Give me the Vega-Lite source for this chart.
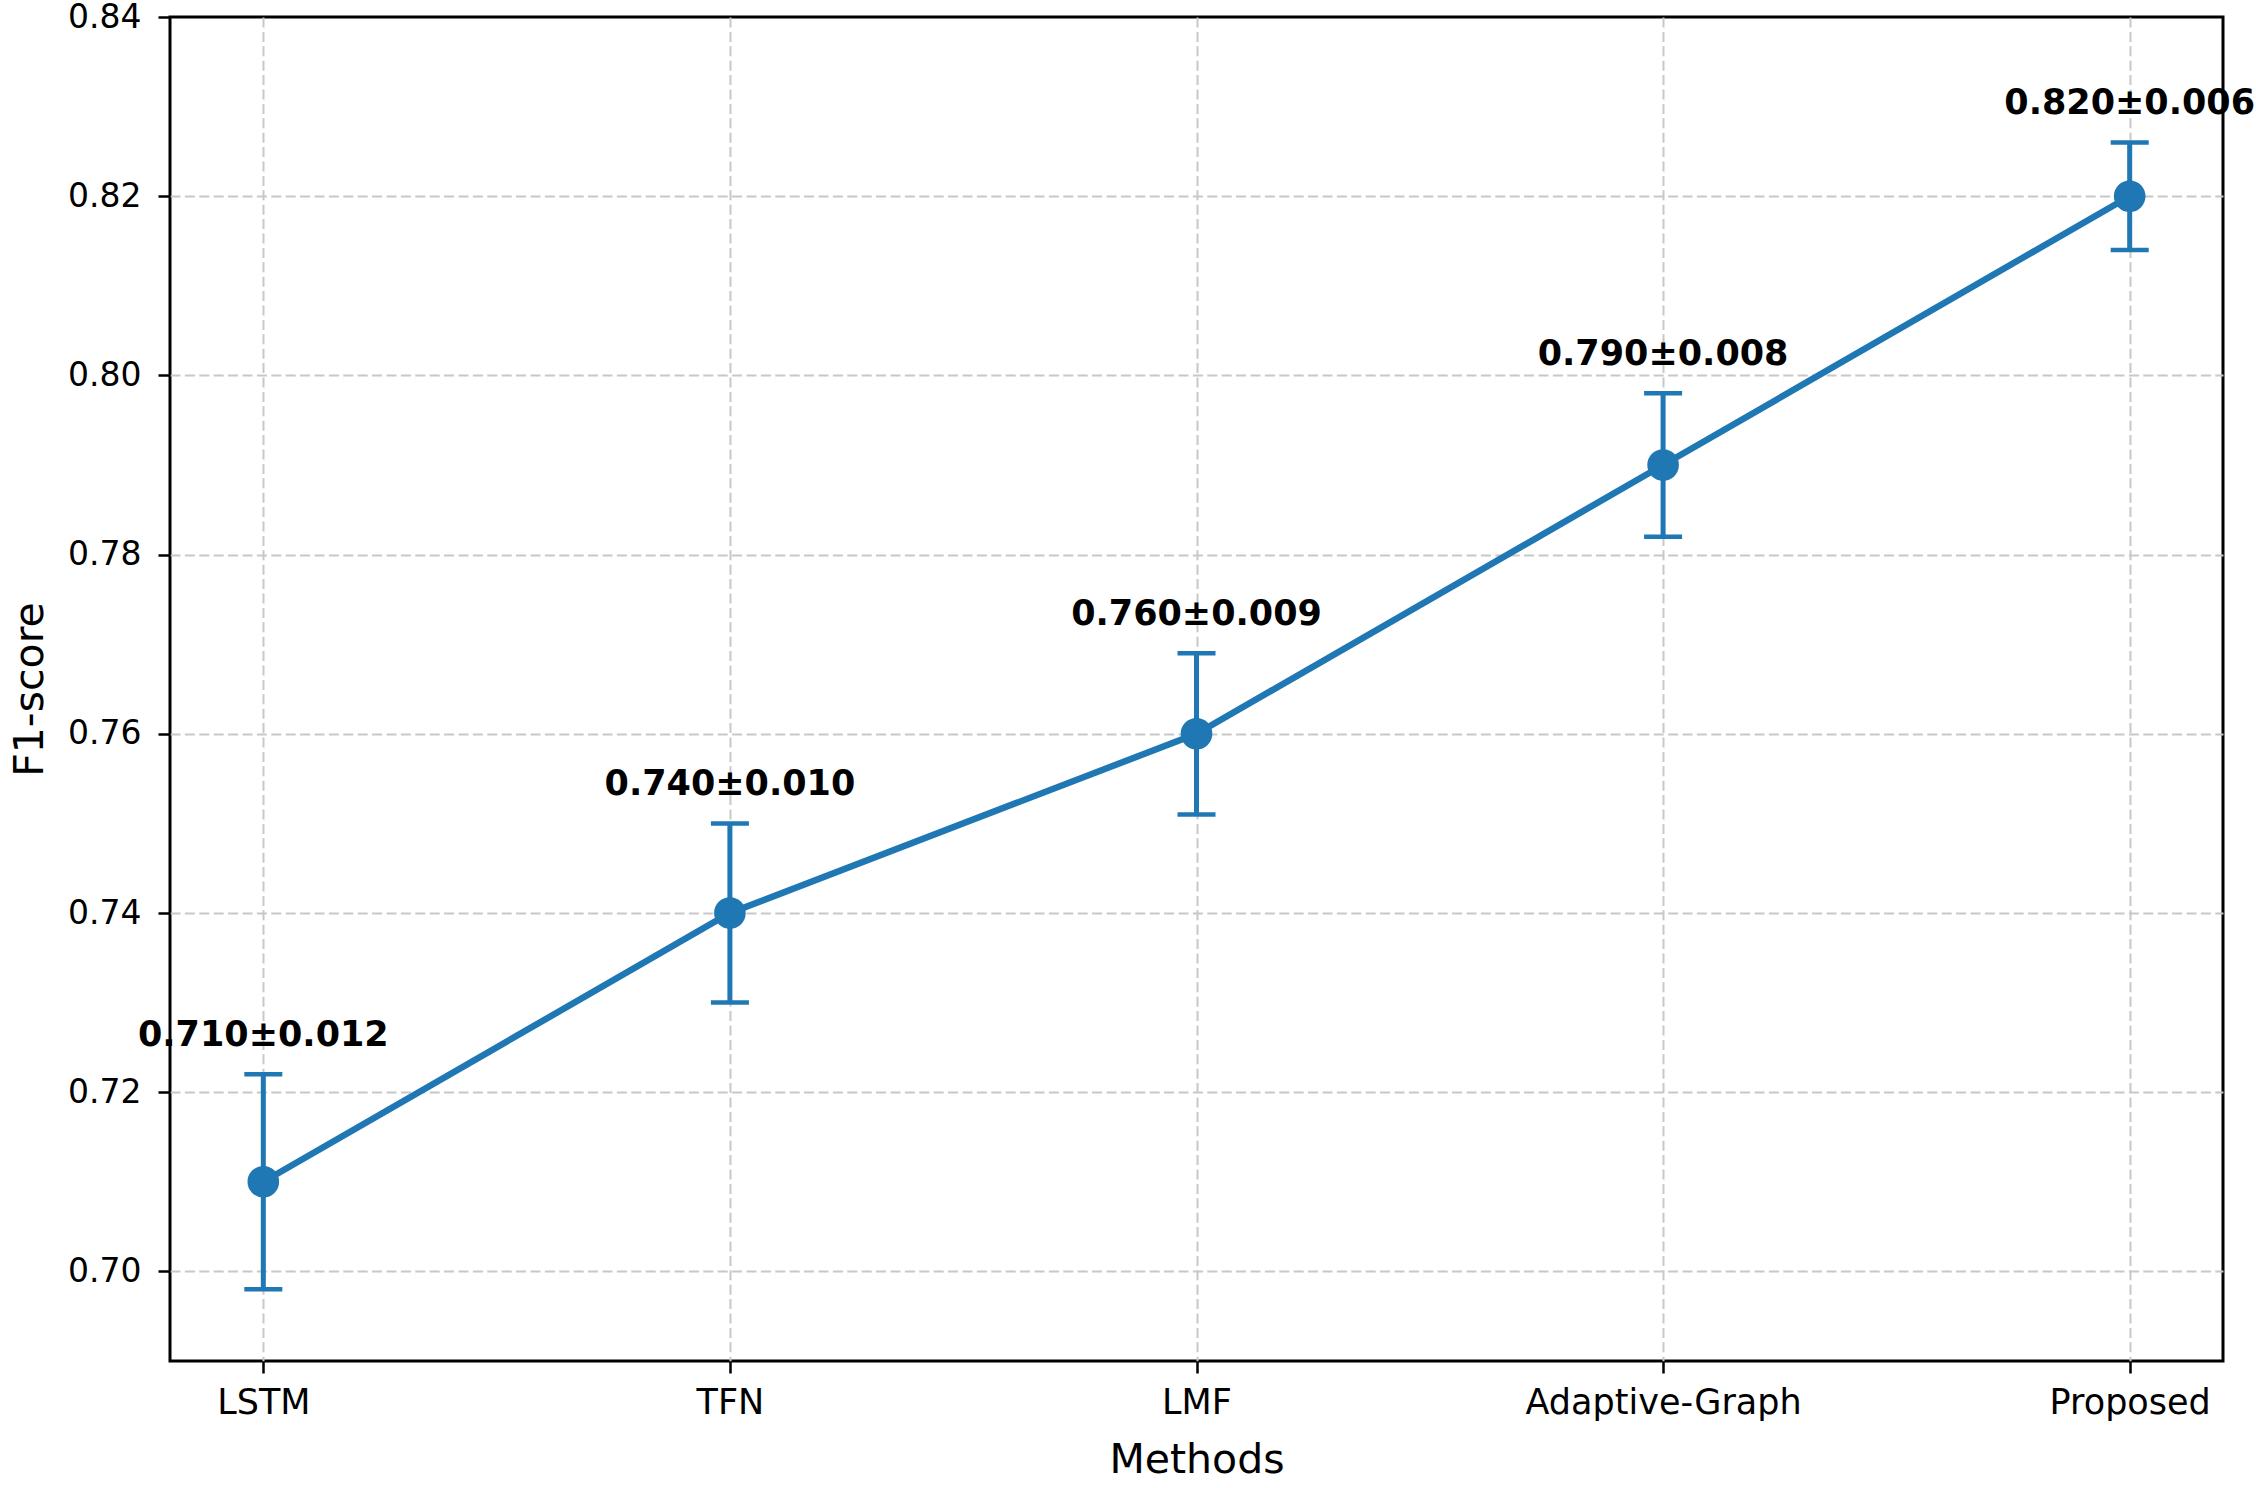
{
  "$schema": "https://vega.github.io/schema/vega-lite/v6.json",
  "autosize": {"type": "none"},
  "padding": {"left": 170, "top": 17, "right": 33, "bottom": 127},
  "width": 2053,
  "height": 1344,
  "background": "white",
  "config": {
    "view": {"stroke": "#000000", "strokeWidth": 3},
    "font": "DejaVu Sans",
    "axis": {
      "labelFont": "DejaVu Sans",
      "titleFont": "DejaVu Sans",
      "labelColor": "#000000",
      "titleColor": "#000000",
      "titleFontWeight": "normal",
      "labelFontSize": 33,
      "titleFontSize": 41,
      "tickColor": "#000000",
      "tickWidth": 2.5,
      "tickSize": 12,
      "labelLimit": 0,
      "domain": false,
      "grid": true,
      "gridDash": [10, 4.4],
      "gridWidth": 2
    }
  },
  "data": {
    "values": [
      {"method": "LSTM", "f1": 0.710, "err": 0.012, "hi": 0.722, "label": "0.710±0.012"},
      {"method": "TFN", "f1": 0.740, "err": 0.010, "hi": 0.750, "label": "0.740±0.010"},
      {"method": "LMF", "f1": 0.760, "err": 0.009, "hi": 0.769, "label": "0.760±0.009"},
      {"method": "Adaptive-Graph", "f1": 0.790, "err": 0.008, "hi": 0.798, "label": "0.790±0.008"},
      {"method": "Proposed", "f1": 0.820, "err": 0.006, "hi": 0.826, "label": "0.820±0.006"}
    ]
  },
  "encoding": {
    "x": {
      "field": "method",
      "type": "ordinal",
      "sort": null,
      "scale": {"type": "point", "padding": 0.2},
      "axis": {
        "title": "Methods",
        "labelAngle": 0,
        "labelFontSize": 35,
        "labelPadding": 12,
        "titleBaseline": "alphabetic",
        "titleY": 111,
        "gridColor": "#c8c8c8"
      }
    }
  },
  "layer": [
    {
      "mark": {"type": "line", "color": "#1f77b4", "strokeWidth": 6.5},
      "encoding": {
        "y": {
          "field": "f1",
          "type": "quantitative",
          "title": "F1-score",
          "scale": {"domain": [0.69, 0.84], "zero": false, "nice": false},
          "axis": {
            "values": [0.70, 0.72, 0.74, 0.76, 0.78, 0.80, 0.82, 0.84],
            "format": ".2f",
            "labelPadding": 17,
            "titleX": -128,
            "titleY": 672,
            "titleAlign": "center",
            "titleBaseline": "alphabetic",
            "gridColor": {
              "condition": {"test": "datum.value >= 0.839", "value": "transparent"},
              "value": "#c8c8c8"
            }
          }
        }
      }
    },
    {
      "mark": {
        "type": "errorbar",
        "color": "#1f77b4",
        "rule": {"strokeWidth": 5, "opacity": 1},
        "ticks": {"size": 38, "thickness": 4.5, "opacity": 1}
      },
      "encoding": {
        "y": {"field": "f1", "type": "quantitative", "title": "F1-score"},
        "yError": {"field": "err"}
      }
    },
    {
      "mark": {"type": "point", "filled": true, "size": 1000, "opacity": 1, "color": "#1f77b4"},
      "encoding": {
        "y": {"field": "f1", "type": "quantitative", "title": "F1-score"}
      }
    },
    {
      "mark": {
        "type": "text",
        "fontWeight": "bold",
        "fontSize": 35,
        "dy": -28,
        "baseline": "alphabetic",
        "align": "center",
        "color": "#000000"
      },
      "encoding": {
        "y": {"field": "hi", "type": "quantitative", "title": "F1-score"},
        "text": {"field": "label"}
      }
    }
  ]
}
